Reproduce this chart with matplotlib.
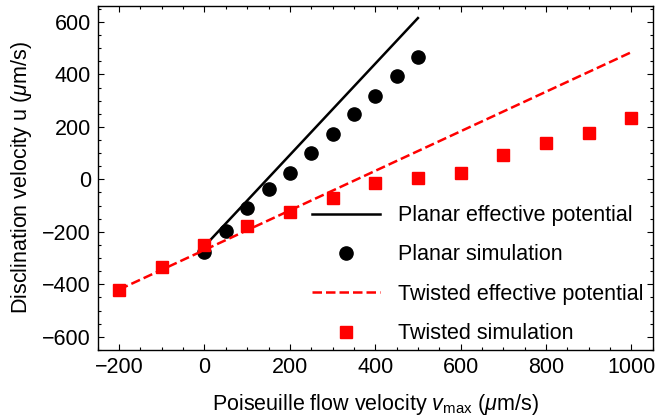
import numpy as np
import matplotlib
matplotlib.use("Agg")
import matplotlib.pyplot as plt
from matplotlib.ticker import MultipleLocator

plt.rcParams['font.family'] = ['Liberation Sans', 'DejaVu Sans']
plt.rcParams['mathtext.fontset'] = 'custom'
plt.rcParams['mathtext.rm'] = 'Liberation Sans'
plt.rcParams['mathtext.it'] = 'Liberation Sans:italic'

# effective potential lines (end points)
planar_line_x = [0, 500]
planar_line_y = [-255, 615]
twisted_line_x = [-200, 1000]
twisted_line_y = [-420, 485]

# simulation points
planar_sim_x = [0, 50, 100, 150, 200, 250, 300, 350, 400, 450, 500]
planar_sim_y = [-275, -197, -111, -38, 25, 102, 172, 251, 318, 395, 465]
twisted_sim_x = [-200, -100, 0, 100, 200, 300, 400, 500, 600, 700, 800, 900, 1000]
twisted_sim_y = [-422, -333, -251, -178, -124, -72, -13, 4, 25, 92, 137, 176, 233]

fig = plt.figure(figsize=(6.56, 4.18), dpi=100)
ax = fig.add_axes([0.149, 0.163, 0.846, 0.822])

ax.plot(planar_line_x, planar_line_y, color='black', lw=1.8,
        label='Planar effective potential')
ax.plot(planar_sim_x, planar_sim_y, 'o', color='black', ms=9.5, ls='none',
        label='Planar simulation')
ax.plot(twisted_line_x, twisted_line_y, color='red', lw=1.8, ls=(0, (3.8, 1.6)),
        label='Twisted effective potential')
ax.plot(twisted_sim_x, twisted_sim_y, 's', color='red', ms=8, ls='none',
        label='Twisted simulation')

ax.set_xlim(-250, 1050)
ax.set_ylim(-650, 660)
ax.xaxis.set_major_locator(MultipleLocator(200))
ax.xaxis.set_minor_locator(MultipleLocator(50))
ax.yaxis.set_major_locator(MultipleLocator(200))
ax.yaxis.set_minor_locator(MultipleLocator(50))
ax.tick_params(which='both', direction='in', top=True, right=True, labelsize=15.5)
ax.tick_params(which='major', length=4.5, width=0.8, pad=5)
ax.tick_params(which='minor', length=2.5, width=0.8)
for s in ax.spines.values():
    s.set_linewidth(1.0)

ax.set_xlabel(r'Poiseuille flow velocity $v_{\rm max}$ ($\mu$m/s)', fontsize=15.5,
              labelpad=10)
ax.set_ylabel(r'Disclination velocity u ($\mu$m/s)', fontsize=15.5, labelpad=6)

ax.legend(loc='lower right', frameon=False, fontsize=15.5, handlelength=3.15,
          handletextpad=0.85, labelspacing=0.85, borderaxespad=0.3,
          bbox_to_anchor=(1.011, -0.027))

fig.savefig('out.png', dpi=100)
